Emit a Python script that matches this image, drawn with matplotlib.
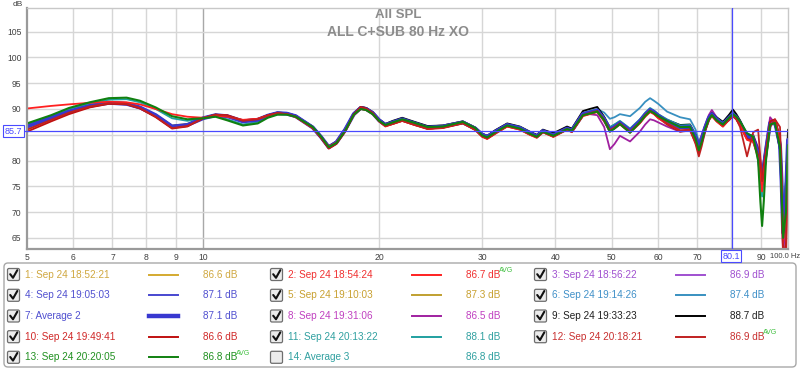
import matplotlib
matplotlib.use('Agg')
import matplotlib.pyplot as plt
from matplotlib.patches import FancyBboxPatch, Rectangle

plt.rcParams['font.family'] = ['Liberation Sans', 'DejaVu Sans']

# ---------------- data ----------------
freqs = [5.0, 5.5, 5.9, 6.4, 6.9, 7.4, 7.8, 8.3, 8.85, 9.4,
         10.0, 10.5, 11.0, 11.7, 12.4, 12.9, 13.4, 13.9, 14.4, 15.4,
         15.9, 16.4, 16.9, 17.5, 18.1, 18.6, 19.0, 19.5, 20.0, 20.5,
         21.1, 21.9, 23.0, 24.2, 25.7, 27.8, 29.2, 30.0, 30.6, 31.6,
         33.1, 34.8, 36.2, 37.2, 38.1, 39.7, 41.9, 42.7, 44.6, 45.8,
         47.2, 48.5, 49.6, 50.5, 51.6, 53.7, 55.8, 57.0, 58.1, 59.0,
         60.0, 62.1, 65.4, 68.0, 69.5, 70.4, 71.2, 72.1, 73.2, 74.1,
         75.5, 77.4, 79.3, 80.5, 81.6, 82.8, 85.1, 87.2, 88.9, 89.7,
         90.3, 90.9, 91.7, 93.2, 95.0, 96.9, 97.5, 98.1, 99.2, 100.0]

spl_1 = [86.0, 87.8, 89.2, 90.4, 91.1, 90.9, 90.2, 88.6, 86.4, 86.8,
         88.3, 88.9, 88.6, 87.5, 87.8, 88.6, 89.1, 89.0, 88.5, 86.3,
         84.5, 82.5, 83.4, 85.9, 88.9, 90.1, 89.9, 89.1, 87.7, 86.8,
         87.2, 87.8, 87.0, 86.2, 86.4, 87.2, 86.0, 84.8, 84.4, 85.4,
         86.8, 86.2, 85.2, 84.6, 85.6, 84.8, 86.1, 85.7, 88.8, 89.1,
         89.5, 87.8, 85.8, 86.3, 87.1, 85.6, 87.4, 88.6, 89.5, 89.1,
         88.4, 87.4, 86.2, 86.3, 84.3, 82.4, 83.8, 86.0, 88.0, 88.8,
         87.8, 86.8, 88.1, 88.8, 88.2, 87.1, 84.4, 84.0, 81.0, 77.0,
         74.5, 78.0, 81.5, 87.0, 87.3, 82.5, 75.0, 67.0, 72.0, 83.0]
spl_2 = [90.1, 90.6, 90.9, 91.2, 91.4, 91.3, 90.9, 90.0, 89.0, 88.5,
         88.3, 88.7, 88.5, 87.9, 88.1, 88.7, 89.1, 89.0, 88.4, 86.3,
         84.6, 82.7, 83.5, 85.8, 88.8, 90.0, 89.8, 89.0, 87.6, 86.6,
         87.1, 87.7, 86.9, 86.2, 86.4, 87.3, 86.0, 84.7, 84.2, 85.3,
         86.6, 86.0, 85.0, 84.4, 85.5, 84.6, 86.0, 85.6, 88.6, 89.0,
         89.4, 87.6, 85.6, 86.2, 87.0, 85.4, 87.2, 88.5, 89.4, 89.0,
         88.2, 87.2, 85.8, 86.0, 84.0, 82.0, 83.6, 85.8, 87.8, 88.6,
         87.6, 86.6, 88.0, 88.8, 88.1, 86.8, 84.0, 83.6, 80.5, 77.0,
         74.0, 77.5, 81.0, 87.0, 87.6, 84.0, 76.0, 64.0, 70.0, 82.0]
spl_3 = [86.4, 88.1, 89.4, 90.5, 91.2, 91.0, 90.2, 88.6, 86.4, 86.8,
         88.2, 88.8, 88.7, 87.7, 88.0, 88.8, 89.3, 89.2, 88.7, 86.5,
         84.7, 82.7, 83.6, 86.1, 89.2, 90.4, 90.2, 89.4, 87.9, 87.0,
         87.5, 88.1, 87.3, 86.5, 86.7, 87.5, 86.3, 85.2, 84.8, 85.8,
         87.0, 86.4, 85.4, 84.8, 85.8, 85.0, 86.3, 85.9, 89.1, 89.4,
         89.8, 88.2, 86.2, 86.7, 87.5, 86.0, 87.8, 89.1, 90.0, 89.6,
         88.9, 87.8, 86.6, 86.7, 84.7, 82.8, 84.2, 86.4, 88.6, 89.3,
         88.2, 87.2, 88.5, 89.2, 88.6, 87.5, 84.8, 84.6, 82.0, 79.0,
         76.0, 79.0, 82.5, 87.8, 87.8, 83.5, 75.0, 65.0, 74.0, 84.0]
spl_4 = [86.8, 88.5, 89.7, 90.7, 91.3, 91.1, 90.3, 88.7, 86.5, 86.9,
         88.2, 88.8, 88.6, 87.6, 87.9, 88.7, 89.2, 89.1, 88.6, 86.4,
         84.5, 82.4, 83.4, 85.9, 89.0, 90.3, 90.1, 89.3, 87.9, 87.0,
         87.5, 88.1, 87.2, 86.5, 86.6, 87.5, 86.3, 85.1, 84.7, 85.7,
         87.0, 86.4, 85.4, 84.8, 85.8, 85.0, 86.3, 85.9, 89.1, 89.4,
         89.8, 88.1, 86.1, 86.6, 87.4, 85.9, 87.7, 89.0, 89.9, 89.5,
         88.8, 87.7, 86.5, 86.6, 84.6, 82.7, 84.1, 86.3, 88.3, 89.1,
         88.1, 87.1, 88.4, 89.1, 88.5, 87.4, 84.7, 84.3, 81.8, 78.5,
         76.0, 79.0, 82.2, 87.4, 87.6, 83.2, 77.0, 68.0, 75.0, 85.0]
spl_5 = [86.9, 88.6, 89.8, 90.8, 91.4, 91.2, 90.4, 88.9, 86.8, 87.1,
         88.3, 88.9, 88.6, 87.6, 88.0, 88.8, 89.3, 89.2, 88.7, 86.5,
         84.6, 82.5, 83.5, 86.1, 89.2, 90.4, 90.2, 89.4, 88.0, 87.1,
         87.6, 88.2, 87.4, 86.6, 86.8, 87.6, 86.4, 85.2, 84.8, 85.8,
         87.1, 86.5, 85.5, 84.9, 85.9, 85.1, 86.4, 86.0, 89.2, 89.5,
         89.9, 88.3, 86.4, 86.9, 87.6, 86.1, 87.9, 89.1, 90.0, 89.6,
         88.9, 87.8, 86.6, 86.7, 84.9, 83.0, 84.3, 86.4, 88.4, 89.2,
         88.2, 87.2, 88.6, 89.3, 88.7, 87.6, 84.9, 84.5, 81.5, 78.0,
         75.0, 78.5, 82.0, 87.6, 87.7, 83.0, 75.5, 66.0, 72.0, 83.0]
spl_6 = [86.7, 88.4, 89.6, 90.7, 91.3, 91.1, 90.3, 88.8, 86.7, 87.0,
         88.2, 88.8, 88.6, 87.6, 87.9, 88.7, 89.2, 89.1, 88.6, 86.4,
         84.6, 82.6, 83.5, 86.0, 89.0, 90.2, 90.0, 89.2, 87.8, 86.9,
         87.4, 88.0, 87.2, 86.4, 86.6, 87.4, 86.2, 84.9, 84.5, 85.5,
         86.8, 86.2, 85.2, 84.5, 85.5, 84.7, 86.0, 85.9, 89.2, 89.6,
         90.0, 89.3, 88.1, 88.4, 89.0, 88.6, 90.2, 91.4, 92.1, 91.6,
         91.0, 89.5, 88.4, 88.0, 86.0, 83.6, 84.8, 86.5, 88.0, 88.8,
         88.2, 87.5, 88.0, 88.6, 88.3, 87.2, 85.0, 84.5, 82.5, 79.5,
         77.0, 80.0, 82.5, 87.0, 87.0, 83.0, 78.0, 70.0, 76.0, 83.5]
spl_7 = [86.6, 88.3, 89.5, 90.6, 91.2, 91.0, 90.3, 88.8, 86.6, 86.9,
         88.2, 88.8, 88.6, 87.6, 87.9, 88.7, 89.2, 89.1, 88.6, 86.4,
         84.6, 82.6, 83.5, 86.0, 89.0, 90.2, 90.0, 89.2, 87.8, 86.9,
         87.4, 88.0, 87.2, 86.4, 86.6, 87.4, 86.2, 85.0, 84.6, 85.6,
         86.9, 86.3, 85.3, 84.7, 85.7, 84.9, 86.2, 85.8, 89.0, 89.3,
         89.7, 88.0, 86.0, 86.5, 87.3, 85.8, 87.6, 88.9, 89.8, 89.4,
         88.7, 87.6, 86.4, 86.5, 84.5, 82.6, 84.0, 86.2, 88.2, 89.0,
         88.0, 87.0, 88.3, 89.0, 88.4, 87.3, 84.6, 84.2, 81.5, 78.0,
         75.5, 78.5, 82.0, 87.3, 87.5, 83.0, 76.0, 66.0, 73.0, 84.0]
spl_8 = [86.5, 88.2, 89.4, 90.5, 91.1, 90.9, 90.1, 88.6, 86.4, 86.8,
         88.2, 88.8, 88.7, 87.7, 88.0, 88.8, 89.3, 89.1, 88.6, 86.4,
         84.6, 82.5, 83.4, 85.8, 89.0, 90.2, 90.0, 89.2, 87.7, 86.8,
         87.3, 87.9, 87.1, 86.3, 86.5, 87.3, 86.1, 84.9, 84.5, 85.5,
         86.8, 86.2, 85.2, 84.6, 85.6, 84.8, 86.1, 85.7, 88.8, 89.0,
         88.8, 86.5, 82.2, 83.2, 84.8, 83.7, 85.6, 87.0, 88.0, 87.8,
         87.4, 86.6, 85.6, 86.0, 84.8, 83.4, 85.0, 86.8, 88.8, 89.8,
         88.4, 87.0, 87.8, 88.6, 88.0, 86.8, 84.3, 85.0, 82.5, 80.0,
         77.5, 80.0, 83.0, 88.4, 87.2, 82.0, 72.0, 62.0, 68.0, 80.0]
spl_9 = [86.7, 88.4, 89.6, 90.6, 91.2, 91.0, 90.3, 88.8, 86.7, 87.0,
         88.3, 88.9, 88.7, 87.7, 88.0, 88.8, 89.3, 89.2, 88.7, 86.6,
         84.8, 82.8, 83.7, 86.2, 89.2, 90.4, 90.2, 89.4, 88.0, 87.1,
         87.7, 88.3, 87.5, 86.7, 86.8, 87.6, 86.4, 85.2, 84.8, 85.9,
         87.2, 86.6, 85.6, 85.0, 86.0, 85.3, 86.6, 86.2, 89.6, 90.0,
         90.4, 88.5, 86.4, 86.9, 87.5, 86.0, 87.8, 89.1, 90.0, 89.6,
         88.8, 87.9, 86.9, 87.0, 85.0, 83.0, 84.4, 86.5, 88.4, 89.2,
         88.4, 87.5, 88.9, 89.9, 89.0, 87.8, 85.0, 84.8, 82.0, 79.0,
         76.5, 79.5, 82.5, 87.5, 87.5, 82.0, 76.0, 68.0, 75.0, 86.0]
spl_10 = [85.6, 87.6, 89.0, 90.3, 91.0, 90.9, 90.1, 88.4, 86.2, 86.6,
          88.2, 88.9, 88.8, 87.8, 88.1, 88.8, 89.2, 89.0, 88.5, 86.3,
          84.4, 82.3, 83.2, 85.6, 89.0, 90.4, 90.1, 89.2, 87.6, 86.7,
          87.1, 87.7, 86.9, 86.1, 86.3, 87.2, 85.9, 84.6, 84.2, 85.2,
          86.6, 86.0, 85.0, 84.5, 85.5, 84.6, 86.0, 85.5, 88.7, 89.1,
          89.5, 87.8, 85.8, 86.3, 87.1, 85.5, 87.3, 88.7, 89.6, 89.1,
          88.3, 87.0, 85.6, 85.8, 83.5, 81.5, 83.4, 85.7, 87.9, 88.7,
          87.6, 86.6, 87.9, 88.6, 88.0, 86.9, 84.2, 83.8, 81.0, 78.0,
          76.0, 79.0, 82.0, 87.6, 88.0, 84.5, 74.0, 61.0, 64.0, 79.0]
spl_11 = [87.0, 88.6, 90.0, 91.1, 91.8, 91.9, 91.3, 90.0, 88.2, 87.7,
          88.2, 88.6, 88.0, 87.0, 87.5, 88.4, 89.0, 89.0, 88.6, 86.5,
          84.7, 82.6, 83.5, 86.0, 89.0, 90.1, 89.9, 89.1, 87.8, 86.9,
          87.4, 88.0, 87.3, 86.5, 86.7, 87.5, 86.3, 85.1, 84.7, 85.7,
          87.0, 86.5, 85.5, 84.8, 85.8, 85.0, 86.3, 86.0, 89.2, 89.5,
          89.9, 88.3, 86.5, 87.0, 87.7, 86.2, 88.0, 89.3, 90.2, 89.7,
          89.0, 88.0, 86.8, 86.9, 85.0, 83.2, 84.6, 86.5, 88.3, 89.0,
          88.2, 87.3, 88.4, 89.2, 88.6, 87.6, 85.2, 84.8, 81.0, 76.0,
          73.0, 76.5, 81.0, 87.0, 87.5, 84.0, 78.0, 70.0, 76.0, 84.0]
spl_12 = [86.0, 87.9, 89.3, 90.5, 91.1, 91.0, 90.2, 88.5, 86.3, 86.7,
          88.2, 88.9, 88.7, 87.7, 88.0, 88.7, 89.2, 89.0, 88.5, 86.3,
          84.5, 82.4, 83.3, 85.7, 88.9, 90.3, 90.0, 89.2, 87.6, 86.7,
          87.1, 87.7, 86.9, 86.2, 86.4, 87.3, 86.0, 84.7, 84.3, 85.3,
          86.7, 86.1, 85.1, 84.6, 85.6, 84.7, 86.1, 85.6, 88.8, 89.2,
          89.6, 87.9, 85.9, 86.4, 87.2, 85.6, 87.4, 88.8, 89.7, 89.2,
          88.5, 87.2, 85.8, 86.0, 83.2, 80.8, 82.8, 85.5, 87.8, 88.8,
          87.8, 86.8, 88.0, 88.7, 88.0, 86.5, 80.8, 85.5, 86.0, 80.5,
          76.0, 77.0, 80.5, 86.5, 88.0, 86.5, 78.0, 60.0, 60.0, 78.0]
spl_13 = [87.2, 88.8, 90.2, 91.3, 92.1, 92.2, 91.6, 90.3, 88.6, 88.0,
          88.2, 88.5, 87.8, 86.8, 87.2, 88.3, 88.9, 88.9, 88.5, 86.5,
          84.7, 82.6, 83.4, 85.8, 88.9, 90.0, 89.8, 89.0, 87.7, 86.9,
          87.4, 88.0, 87.3, 86.5, 86.6, 87.5, 86.3, 84.9, 84.5, 85.5,
          86.8, 86.2, 85.2, 84.6, 85.6, 84.8, 86.1, 85.8, 88.8, 89.1,
          89.5, 87.8, 85.6, 86.2, 87.1, 85.4, 87.4, 88.7, 89.6, 89.2,
          88.6, 87.7, 86.5, 86.5, 84.2, 82.0, 83.6, 86.0, 88.0, 88.8,
          87.8, 87.0, 88.3, 89.0, 88.5, 87.6, 85.3, 84.6, 80.0, 72.0,
          67.3, 72.0, 80.0, 87.0, 87.3, 82.5, 74.0, 65.0, 70.0, 83.0]

names = ["1: Sep 24 18:52:21", "2: Sep 24 18:54:24", "3: Sep 24 18:56:22",
         "4: Sep 24 19:05:03", "5: Sep 24 19:10:03", "6: Sep 24 19:14:26",
         "7: Average 2", "8: Sep 24 19:31:06", "9: Sep 24 19:33:23",
         "10: Sep 24 19:49:41", "11: Sep 24 20:13:22", "12: Sep 24 20:18:21",
         "13: Sep 24 20:20:05", "14: Average 3"]
levels = ["86.6 dB", "86.7 dB", "86.9 dB", "87.1 dB", "87.3 dB", "87.4 dB",
          "87.1 dB", "86.5 dB", "88.7 dB", "86.6 dB", "88.1 dB", "86.9 dB",
          "86.8 dB", "86.8 dB"]
avg_flags = [False, True, False, False, False, False, False, False, False,
             False, False, True, True, False]
checked = [True] * 13 + [False]

series = [spl_1, spl_2, spl_3, spl_4, spl_5, spl_6, spl_7, spl_8, spl_9,
          spl_10, spl_11, spl_12, spl_13, None]
for s in series:
    if s is not None:
        assert len(s) == len(freqs)

line_colors = ["#d4aa30", "#ff2020", "#a050d0", "#4848d0", "#c0a030", "#3890c0",
               "#3838d0", "#a020a0", "#000000", "#c01010", "#20a0a0", "#c02020",
               "#108010", "#20a0a0"]
text_colors = ["#d0a840", "#f03030", "#a050d0", "#5050d0", "#c8a030", "#4090c8",
               "#5050d0", "#c040c0", "#202020", "#d02828", "#30a0a0", "#c83030",
               "#209020", "#30a0a0"]
line_widths = [1.3, 1.3, 1.3, 1.3, 1.3, 1.3, 2.8, 1.3, 1.3, 1.3, 1.3, 1.3, 1.5, 1.3]

x_ticks = [5, 6, 7, 8, 9, 10, 20, 30, 40, 50, 60, 70, 90]
y_ticks = [65, 70, 75, 80, 85, 90, 95, 100, 105]
cursor_f = 80.1
cursor_db = 85.7

# ---------------- figure ----------------
W, H = 800, 370
fig = plt.figure(figsize=(W / 100, H / 100), dpi=100)
ax = fig.add_axes([27 / W, 1 - 249 / H, 761 / W, 241 / H])
ax.set_xscale('log')
ax.set_xlim(5, 100)
ax.set_ylim(62.83, 109.6)

# grid
for f in [6, 7, 8, 9, 20, 30, 40, 50, 60, 70, 80, 90]:
    ax.axvline(f, color='#d6d6d6', lw=1.0, zorder=0)
ax.axvline(10, color='#a8a8a8', lw=1.0, zorder=0)
for yv in y_ticks:
    ax.axhline(yv, color='#d6d6d6', lw=1.0, zorder=0)

# curves
order = [0, 2, 3, 4, 5, 7, 8, 10, 6, 9, 1, 11, 12]
for n, i in enumerate(order):
    ax.plot(freqs, series[i], color=line_colors[i], lw=line_widths[i],
            solid_joinstyle='round', solid_capstyle='round', zorder=2 + n * 0.01)

# cursors
ax.axvline(cursor_f, color='#4a4aff', lw=0.9, zorder=5)
ax.axhline(cursor_db, color='#4a4aff', lw=0.9, zorder=5)

ax.minorticks_off()
ax.set_xticks(x_ticks)
ax.set_xticklabels([str(v) for v in x_ticks])
ax.xaxis.set_minor_locator(matplotlib.ticker.NullLocator())
ax.set_yticks(y_ticks)
# the 85 label sits under the cursor readout box
ax.set_yticklabels(['' if v == 85 else str(v) for v in y_ticks])
ax.tick_params(axis='both', length=0, labelsize=6.2, labelcolor='#404040')
ax.tick_params(axis='x', pad=3)
ax.tick_params(axis='y', pad=4)
for s in ['left', 'bottom']:
    ax.spines[s].set_color('#9a9a9a')
    ax.spines[s].set_linewidth(1.6)
for s in ['top', 'right']:
    ax.spines[s].set_color('#c8c8c8')
    ax.spines[s].set_linewidth(1.0)

# ---------------- overlay (pixel coordinates) ----------------
ov = fig.add_axes([0, 0, 1, 1], facecolor='none')
ov.set_xlim(0, W)
ov.set_ylim(H, 0)
ov.axis('off')

ov.text(398, 15, "All SPL", ha='center', va='center', fontsize=9.5,
        fontweight='bold', color='#8c8c8c')
ov.text(398, 32, "ALL C+SUB 80 Hz XO", ha='center', va='center', fontsize=10,
        fontweight='bold', color='#8c8c8c')
ov.text(13, 4, "dB", ha='left', va='center', fontsize=6, color='#404040')
ov.text(800, 256, "100.0 Hz", ha='right', va='center', fontsize=5.5, color='#404040')

# cursor value boxes
ov.add_patch(Rectangle((3, 125), 21, 12, fc='white', ec='#4a4aff', lw=0.8, zorder=6))
ov.text(13.5, 131.5, f"{cursor_db:.1f}", ha='center', va='center', fontsize=6.5,
        color='#4a4aff', zorder=7)
ov.plot([24, 27], [131, 131], color='#4a4aff', lw=0.9)
ov.add_patch(Rectangle((721, 250), 20, 12, fc='white', ec='#4a4aff', lw=0.8, zorder=6))
ov.text(731, 256.5, f"{cursor_f:.1f}", ha='center', va='center', fontsize=6.5,
        color='#4a4aff', zorder=7)

# legend panel
ov.add_patch(FancyBboxPatch((4, 263), 792, 104,
                            boxstyle='round,pad=0,rounding_size=4',
                            fc='white', ec='#a8a8a8', lw=1.0))

group_x = [0, 263, 527]
row_y = [274.5, 295.3, 316, 336.7, 357.3]
for k in range(len(names)):
    r, c = divmod(k, 3)
    gx = group_x[c]
    y = row_y[r]
    ov.add_patch(FancyBboxPatch((gx + 7.5, y - 6), 12, 12,
                                boxstyle='round,pad=0,rounding_size=1.5',
                                fc='#ececec', ec='#6e6e6e', lw=0.9))
    if checked[k]:
        ov.plot([gx + 10.2, gx + 13, gx + 17.3], [y - 0.3, y + 3.3, y - 4.3],
                color='#111111', lw=1.5, solid_capstyle='round',
                solid_joinstyle='round')
    ov.text(gx + 25, y, names[k], ha='left', va='center', fontsize=7.2,
            color=text_colors[k])
    if series[k] is not None:
        ov.plot([gx + 149, gx + 178], [y, y], color=line_colors[k],
                lw=(3.2 if k == 6 else 1.4))
    ov.text(gx + 203, y, levels[k], ha='left', va='center', fontsize=7.2,
            color=text_colors[k])
    if avg_flags[k]:
        ov.text(gx + 236, y - 4, "AVG", ha='left', va='center', fontsize=5,
                color='#40c040')

fig.savefig('out.png', dpi=100)
